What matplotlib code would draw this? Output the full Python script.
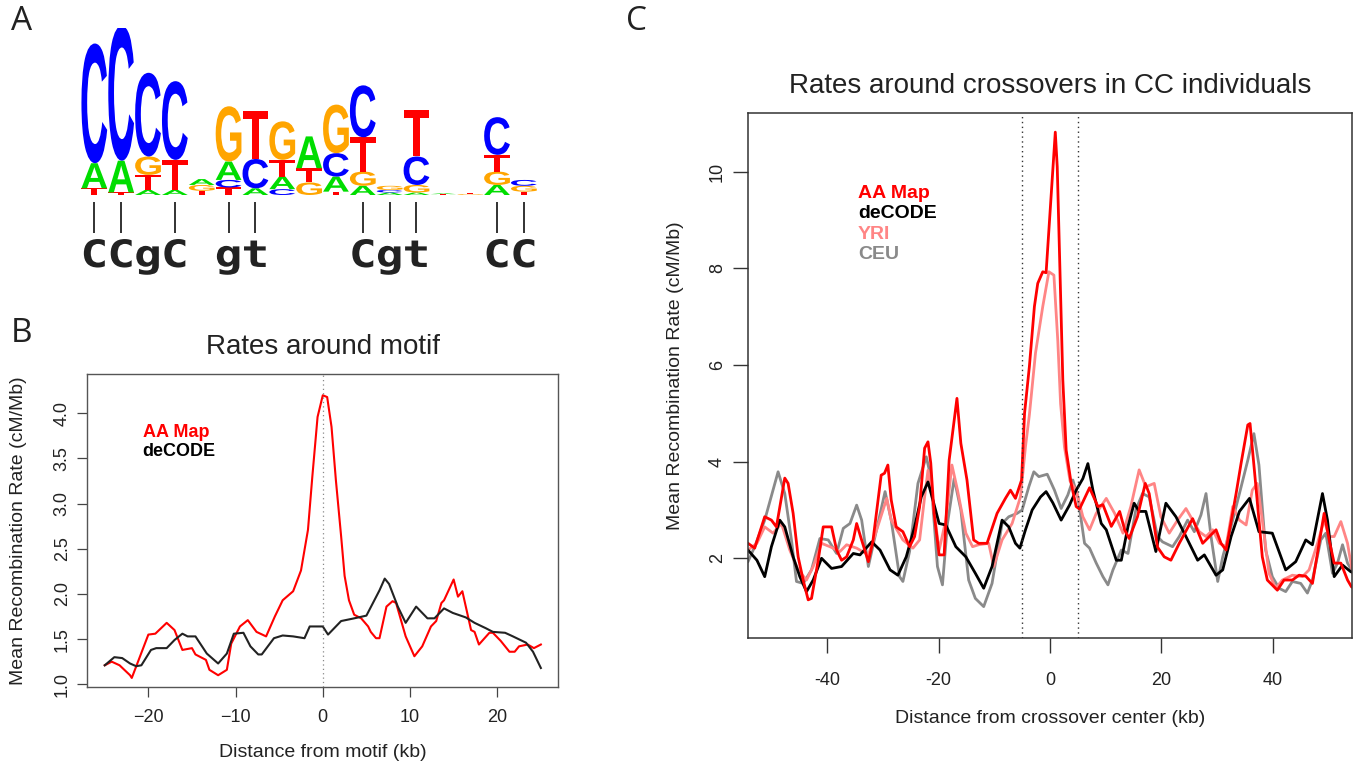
import matplotlib
matplotlib.use("Agg")
import matplotlib.pyplot as plt
import numpy as np
from matplotlib.textpath import TextPath
from matplotlib.patches import PathPatch
from matplotlib.font_manager import FontProperties
import matplotlib.transforms as mtransforms

plt.rcParams['font.family'] = ['Liberation Sans', 'DejaVu Sans']

# ---------------- Panel A: sequence logo data ----------------
# letters listed bottom -> top for each column, heights in bits
logo_letters = ["TAC", "TAC", "ATGC", "ATC", "TGA", "TCAG", "ACT", "CATG", "GTA",
                "TACG", "AGTC", "ACG", "AGCT", "TA", "GT", "AGTC", "TGC"]
logo_heights = [[0.08, 0.30, 1.43], [0.03, 0.38, 1.61], [0.06, 0.18, 0.22, 1.00],
                [0.06, 0.36, 0.94], [0.05, 0.07, 0.07], [0.09, 0.09, 0.22, 0.66],
                [0.08, 0.35, 0.57], [0.07, 0.15, 0.20, 0.46], [0.15, 0.17, 0.38],
                [0.04, 0.18, 0.28, 0.58], [0.11, 0.17, 0.41, 0.62], [0.03, 0.03, 0.05],
                [0.03, 0.09, 0.34, 0.55], [0.01, 0.01], [0.01, 0.01],
                [0.12, 0.16, 0.20, 0.45], [0.04, 0.07, 0.07]]
logo_colors = {"A": "#00DD00", "C": "#0000FF", "G": "#FFA500", "T": "#FF0000"}
consensus_pos = [1, 2, 3, 4, 6, 7, 11, 12, 13, 16, 17]
consensus_chars = ["C", "C", "g", "C", "g", "t", "C", "g", "t", "C", "C"]
consensus_ticks = [1, 2, 4, 6, 7, 11, 12, 13, 16, 17]

# ---------------- Panel B data ----------------
b_aa_x = [-25, -24.2, -23.3, -22.1, -21.9, -20.0, -19.2, -17.9, -17.0, -16.1, -15.0, -14.6,
          -13.4, -13.0, -12.0, -11.0, -10.5, -9.5, -8.6, -7.6, -6.5, -5.5, -4.6, -3.4, -2.5,
          -1.7, -1.2, -0.6, 0, 0.5, 1.0, 1.5, 2.1, 2.5, 3.0, 3.6, 4.4, 5.2, 5.5, 6.1, 6.5, 7.3,
          8.0, 8.4, 9.5, 10.5, 11.4, 12.4, 13.0, 13.6, 13.9, 15.0, 15.5, 16.0, 17.0, 17.4,
          17.9, 19.1, 19.5, 20.4, 21.4, 22.0, 22.5, 23.5, 24.2, 25.0]
b_aa_y = [1.21, 1.25, 1.21, 1.10, 1.07, 1.55, 1.56, 1.68, 1.60, 1.38, 1.40, 1.33,
          1.27, 1.16, 1.10, 1.16, 1.45, 1.64, 1.71, 1.58, 1.53, 1.75, 1.93, 2.03, 2.26,
          2.71, 3.30, 3.96, 4.20, 4.18, 3.85, 3.26, 2.64, 2.20, 1.93, 1.77, 1.73, 1.64, 1.58,
          1.51, 1.51, 1.86, 1.92, 1.90, 1.53, 1.31, 1.42, 1.64, 1.70, 1.90, 1.93, 2.16, 1.97,
          2.03, 1.60, 1.58, 1.44, 1.57, 1.57, 1.48, 1.36, 1.36, 1.42, 1.44, 1.40, 1.44]
b_de_x = [-25, -23.9, -23.0, -22.1, -21.4, -20.8, -19.7, -19.1, -17.9, -17.0, -16.1, -15.5,
          -14.6, -13.3, -12.0, -11.0, -10.2, -9.1, -8.3, -7.4, -7.0, -5.6, -4.6, -3.4, -2.1,
          -1.5, 0, 0.6, 2.1, 3.6, 5.0, 6.5, 7.1, 7.6, 8.6, 9.5, 10.7, 12.0, 12.8, 13.9, 14.9,
          16.4, 17.4, 18.7, 19.5, 20.9, 21.8, 23.3, 24.1, 25.0]
b_de_y = [1.21, 1.30, 1.29, 1.23, 1.20, 1.21, 1.38, 1.40, 1.40, 1.49, 1.56, 1.53,
          1.53, 1.34, 1.23, 1.34, 1.56, 1.57, 1.42, 1.33, 1.33, 1.51, 1.54, 1.53, 1.51,
          1.64, 1.64, 1.55, 1.70, 1.73, 1.76, 2.04, 2.17, 2.11, 1.86, 1.68, 1.86, 1.73, 1.73,
          1.84, 1.79, 1.74, 1.68, 1.62, 1.58, 1.57, 1.53, 1.46, 1.36, 1.18]
b_xticks = [-20, -10, 0, 10, 20]
b_yticks = [1.0, 1.5, 2.0, 2.5, 3.0, 3.5, 4.0]

# ---------------- Panel C data ----------------
c_aa_x = [-55.0, -54.2, -53.0, -51.2, -50.0, -49.1, -47.6, -47.0, -46.1, -45.2, -44.3, -43.4,
          -42.8, -41.6, -40.7, -39.2, -38.3, -37.4, -36.5, -35.3, -34.7, -34.0, -32.6, -31.8,
          -30.3, -29.7, -29.1, -28.5, -27.6, -26.4, -25.2, -24.3, -23.4, -22.5, -21.9, -21.4,
          -20.8, -19.9, -19.0, -18.1, -16.7, -16.0, -14.9, -13.7, -12.8, -11.3, -9.5, -8.0,
          -7.1, -6.2, -5.1, -4.57, -3.7, -2.8, -2.2, -1.3, -0.7, 0.95, 1.3, 2.3, 2.9, 3.8,
          4.7, 5.3, 7.1, 8.6, 9.5, 11.0, 12.5, 13.4, 14.2, 15.7, 17.1, 17.8, 19.3, 20.5, 21.7,
          23.2, 25.6, 27.4, 29.8, 30.7, 31.6, 33.4, 34.3, 35.5, 35.9, 36.9, 38.1, 39.0, 40.8,
          42.0, 43.5, 44.7, 45.9, 47.1, 48.3, 49.2, 50.1, 51.0, 52.2, 53.4, 54.1, 55.0]
c_aa_y = [2.35, 2.31, 2.21, 2.86, 2.79, 2.65, 3.66, 3.55, 2.93, 2.03, 1.55, 1.14,
          1.17, 1.96, 2.65, 2.65, 2.17, 1.96, 2.03, 2.38, 2.72, 2.45, 1.93, 2.34,
          3.72, 3.76, 3.93, 3.21, 2.65, 2.55, 2.24, 2.45, 3.07, 4.28, 4.41, 3.97,
          2.93, 2.07, 2.07, 4.03, 5.31, 4.38, 3.62, 2.38, 2.31, 2.31, 2.93, 3.24,
          3.41, 3.24, 3.62, 5.00, 5.97, 7.21, 7.69, 7.93, 7.91, 10.82, 10.10, 5.69, 4.24, 3.55,
          3.07, 3.02, 3.46, 3.07, 3.11, 2.66, 2.97, 2.59, 2.41, 2.86, 3.55, 3.34, 2.23, 2.03, 1.96,
          2.31, 2.82, 2.31, 2.59, 2.31, 2.17, 3.34, 3.97, 4.76, 4.79, 3.55, 2.03, 1.55, 1.34,
          1.55, 1.55, 1.65, 1.63, 1.48, 2.31, 2.93, 2.38, 1.90, 1.90, 1.55, 1.41, 1.35]
c_de_x = [-55.0, -54.2, -52.6, -51.2, -50.0, -48.5, -47.6, -46.1, -44.9, -43.7, -42.5, -41.0,
          -39.2, -37.4, -35.3, -34.1, -32.0, -30.5, -28.7, -27.3, -25.8, -24.3, -23.1, -21.9,
          -21.0, -19.9, -18.7, -16.9, -15.1, -13.4, -11.9, -10.4, -8.6, -7.4, -6.2, -5.4, -4.4,
          -3.2, -1.7, -0.7, 0.5, 2.0, 3.5, 4.7, 5.9, 6.8, 7.7, 9.2, 10.1, 11.9, 12.8, 14.0,
          15.1, 16.0, 17.2, 19.0, 20.8, 22.6, 24.4, 26.5, 27.7, 29.8, 31.0, 32.5, 34.0, 35.8,
          37.5, 39.9, 42.3, 44.1, 45.9, 47.1, 48.9, 49.8, 51.0, 52.5, 54.0, 55.0]
c_de_y = [2.20, 2.17, 1.96, 1.62, 2.24, 2.79, 2.65, 2.03, 1.62, 1.31, 1.55, 2.00,
          1.79, 1.83, 2.10, 2.07, 2.34, 2.17, 1.76, 1.65, 2.03, 2.65, 3.27, 3.58,
          3.20, 2.72, 2.69, 2.24, 2.03, 1.69, 1.38, 1.83, 2.79, 2.65, 2.31, 2.21, 2.59,
          3.00, 3.27, 3.38, 3.15, 2.79, 3.10, 3.41, 3.65, 3.96, 3.41, 2.72, 2.59, 1.96, 1.96, 2.66,
          3.14, 2.97, 2.97, 2.14, 3.14, 2.86, 2.45, 1.96, 2.07, 1.65, 1.76, 2.45, 2.97, 3.24,
          2.55, 2.52, 1.76, 1.93, 2.38, 2.28, 3.34, 2.79, 1.62, 1.86, 1.72, 1.70]
c_yri_x = [-55.0, -54.2, -52.6, -51.2, -49.7, -48.2, -46.7, -45.2, -43.7, -42.5, -41.0, -39.5,
           -37.7, -36.5, -34.7, -32.6, -31.1, -29.3, -28.5, -26.4, -24.6, -23.4, -22.5, -21.9,
           -21.0, -19.9, -18.7, -17.6, -16.6, -15.1, -13.9, -12.8, -11.0, -10.1, -8.6, -6.8,
           -5.3, -4.4, -3.7, -2.6, -1.3, -0.2, 0.7, 1.4, 1.9, 2.6, 3.6, 4.7, 5.9, 7.1, 8.3, 10.1,
           11.6, 13.1, 14.5, 16.0, 17.2, 18.7, 19.9, 21.4, 22.9, 24.4, 25.6, 26.8, 28.0, 29.2,
           30.4, 31.6, 32.8, 34.0, 35.2, 36.3, 37.2, 38.1, 39.3, 40.5, 41.7, 43.5, 45.3, 46.5,
           48.0, 49.2, 50.1, 51.0, 52.2, 53.4, 54.3, 55.0]
c_yri_y = [2.15, 2.17, 2.31, 2.65, 2.52, 2.72, 2.17, 1.76, 1.55, 1.83, 2.31, 2.24,
           2.14, 2.28, 2.21, 2.07, 2.59, 3.24, 2.79, 2.38, 2.21, 2.38, 3.27, 3.82,
           3.14, 2.17, 2.79, 3.93, 3.41, 2.52, 2.24, 2.28, 2.31, 1.83, 2.38, 2.72,
           3.27, 4.31, 4.97, 6.25, 7.21, 7.93, 7.86, 6.50, 5.20, 4.30, 3.60, 3.41, 2.86, 2.59, 2.93, 3.24,
           2.93, 2.52, 3.07, 3.83, 3.48, 3.55, 2.86, 2.52, 2.79, 3.03, 2.79, 2.55, 2.45, 2.59,
           2.31, 2.24, 3.07, 2.79, 2.69, 3.41, 3.55, 2.79, 1.69, 1.38, 1.55, 1.65, 1.62, 1.76,
           2.31, 2.79, 2.45, 2.45, 2.76, 2.31, 1.69, 1.60]
c_ceu_x = [-55.0, -54.2, -53.0, -51.2, -48.8, -47.6, -46.4, -45.5, -44.3, -42.8, -41.3, -39.8,
           -38.3, -37.1, -35.9, -34.7, -33.8, -32.6, -31.4, -29.6, -28.5, -27.0, -26.4, -25.2,
           -23.7, -22.2, -21.4, -20.2, -19.3, -18.4, -17.2, -16.0, -14.6, -13.4, -11.9, -10.4,
           -8.6, -7.4, -5.9, -5.0, -3.8, -2.9, -2.0, -0.5, 0.8, 2.0, 3.2, 4.1, 5.0, 6.2, 7.1,
           8.3, 9.5, 10.4, 11.3, 12.8, 14.0, 15.4, 16.6, 17.8, 19.3, 20.2, 22.0, 23.2, 24.7,
           25.9, 27.1, 28.0, 28.9, 30.1, 31.0, 32.5, 34.0, 35.5, 36.6, 37.5, 38.7, 39.9, 41.1,
           42.3, 43.5, 45.0, 46.2, 47.1, 48.6, 49.5, 50.7, 51.6, 52.5, 53.4, 54.1, 55.0]
c_ceu_y = [1.90, 1.93, 2.24, 2.79, 3.79, 3.34, 2.38, 1.52, 1.48, 1.76, 2.41, 2.38,
           2.10, 2.62, 2.72, 3.10, 2.79, 1.83, 2.45, 3.38, 2.79, 1.62, 1.52, 2.14,
           3.55, 4.10, 3.69, 1.83, 1.45, 2.72, 3.65, 3.00, 1.55, 1.17, 1.00, 1.48,
           2.72, 2.86, 2.93, 3.00, 3.48, 3.79, 3.69, 3.74, 3.41, 3.03, 3.31, 3.62, 3.27, 2.31, 2.21,
           1.90, 1.62, 1.45, 1.76, 2.17, 2.10, 3.00, 3.34, 3.27, 2.45, 2.34, 2.24, 2.45, 2.79,
           2.55, 2.90, 3.34, 2.45, 1.52, 2.03, 2.66, 3.34, 4.03, 4.58, 3.93, 2.17, 1.62, 1.38,
           1.31, 1.52, 1.48, 1.28, 1.55, 2.38, 2.52, 1.69, 1.90, 2.28, 1.90, 1.76, 1.70]
c_xticks = [-40, -20, 0, 20, 40]
c_xticklabels = ["-40", "-20", "0", "20", "40"]
c_yticks = [2, 4, 6, 8, 10]
c_window = [-5, 5]

W, H = 1358, 768
fig = plt.figure(figsize=(W / 100, H / 100), dpi=100)


def px_axes(left, top, right, bottom):
    return fig.add_axes([left / W, 1 - bottom / H, (right - left) / W, (bottom - top) / H])


# ---------------- Panel A ----------------
axA = px_axes(80.9, 27.6, 537.3, 278.7)
axA.set_xlim(0.5, 17.5)
axA.set_ylim(-1.0, 2.0)
axA.axis('off')
fp_logo = FontProperties(family='Liberation Sans', weight='bold')
fp_cons = FontProperties(family='DejaVu Sans Mono', weight='bold')


def draw_letter(ax, ch, xc, y0, h, color, w=0.96):
    tp = TextPath((0, 0), ch, size=1, prop=fp_logo)
    bb = tp.get_extents()
    t = (mtransforms.Affine2D().translate(-bb.x0, -bb.y0)
         .scale(w / bb.width, h / bb.height).translate(xc - w / 2, y0))
    ax.add_patch(PathPatch(t.transform_path(tp), fc=color, ec='none', lw=0))


for i, (letters, heights) in enumerate(zip(logo_letters, logo_heights)):
    y0 = 0.0
    for ch, h in zip(letters, heights):
        draw_letter(axA, ch, i + 1, y0, h, logo_colors[ch])
        y0 += h

axA.vlines(consensus_ticks, -0.45, -0.085, color='#222222', lw=1.3)
# consensus letters: monospace bold glyphs, slightly widened
em_x, em_y, base_y = 1.72, 0.45, -0.86
for p, ch in zip(consensus_pos, consensus_chars):
    tp = TextPath((0, 0), ch, size=1, prop=fp_cons)
    t = (mtransforms.Affine2D().translate(-0.301, 0).scale(em_x, em_y).translate(p, base_y))
    axA.add_patch(PathPatch(t.transform_path(tp), fc='#222222', ec='none', lw=0, clip_on=False))

# ---------------- Panel B ----------------
axB = px_axes(87.3, 374.3, 558.3, 686.7)
axB.plot(b_aa_x, b_aa_y, color='#FF0000', lw=1.5)
axB.plot(b_de_x, b_de_y, color='#222222', lw=1.5)
axB.axvline(0, color='#888888', lw=0.9, ls=(0, (1, 2.5)))
axB.set_xlim(-27, 27)
axB.set_ylim(0.973, 4.432)
axB.set_xticks(b_xticks)
axB.set_yticks(b_yticks)
axB.set_yticklabels([f"{v:.1f}" for v in b_yticks])
axB.tick_params(axis='both', length=7, width=0.9, color='#444444', labelsize=13, labelcolor='#222222')
axB.tick_params(axis='x', pad=9)
axB.tick_params(axis='y', labelrotation=90, pad=5)
for lab in axB.get_yticklabels():
    lab.set_va('center')
for s in axB.spines.values():
    s.set_color('#555555'); s.set_linewidth(1.0)
axB.set_xlabel("Distance from motif (kb)", fontsize=14, color='#222222')
axB.xaxis.set_label_coords(0.5, -0.212)
axB.xaxis.label.set_va('center')
axB.set_ylabel("Mean Recombination Rate (cM/Mb)", fontsize=14, color='#222222')
axB.yaxis.set_label_coords(-0.146, 0.5)
axB.yaxis.label.set_va('center')
axB.text(0.5, 1.087, "Rates around motif", transform=axB.transAxes, ha='center', va='center',
         fontsize=20, color='#222222')
axB.text(-20.65, 3.79, "AA Map", color='#FF0000', fontsize=13, weight='bold', va='center')
axB.text(-20.65, 3.58, "deCODE", color='black', fontsize=13, weight='bold', va='center')

# ---------------- Panel C ----------------
axC = px_axes(748, 113.3, 1352, 638.3)
axC.plot(c_ceu_x, c_ceu_y, color='#8A8A8A', lw=2.0)
axC.plot(c_yri_x, c_yri_y, color='#FF8585', lw=2.0)
axC.plot(c_de_x, c_de_y, color='black', lw=2.0)
axC.plot(c_aa_x, c_aa_y, color='#FF0000', lw=2.0)
for xv in c_window:
    axC.axvline(xv, color='#333333', lw=1.0, ls=(0, (1, 2.5)))
axC.set_xlim(-54.2, 54.2)
axC.set_ylim(0.344, 11.21)
axC.set_xticks(c_xticks)
axC.set_xticklabels(c_xticklabels)
axC.set_yticks(c_yticks)
axC.tick_params(axis='both', length=11, width=1.0, color='#333333', labelsize=13, labelcolor='#222222')
axC.tick_params(axis='x', pad=13)
axC.tick_params(axis='y', labelrotation=90, pad=5)
for lab in axC.get_yticklabels():
    lab.set_va('center')
for s in axC.spines.values():
    s.set_color('#333333'); s.set_linewidth(1.1)
axC.set_xlabel("Distance from crossover center (kb)", fontsize=14, color='#222222')
axC.xaxis.set_label_coords(0.5, -0.152)
axC.xaxis.label.set_va('center')
axC.set_ylabel("Mean Recombination Rate (cM/Mb)", fontsize=14, color='#222222')
axC.yaxis.set_label_coords(-0.12, 0.5)
axC.yaxis.label.set_va('center')
axC.text(0.5, 1.052, "Rates around crossovers in CC individuals", transform=axC.transAxes,
         ha='center', va='center', fontsize=20, color='#222222')
legend_labels = ["AA Map", "deCODE", "YRI", "CEU"]
legend_colors = ['#FF0000', 'black', '#FF8585', '#8A8A8A']
legend_y = [9.56, 9.14, 8.71, 8.28]
for lab, col, yv in zip(legend_labels, legend_colors, legend_y):
    axC.text(-34.5, yv, lab, color=col, fontsize=14, weight='bold', va='center')

# ---------------- Panel letters ----------------
for lab, xp, yp in [("A", 22, 22), ("B", 21, 333), ("C", 636, 22)]:
    fig.text(xp / W, 1 - yp / H, lab, fontsize=24, family='Open Sans', ha='center', va='center',
             color='#222222')

fig.savefig("out.png", dpi=100)
